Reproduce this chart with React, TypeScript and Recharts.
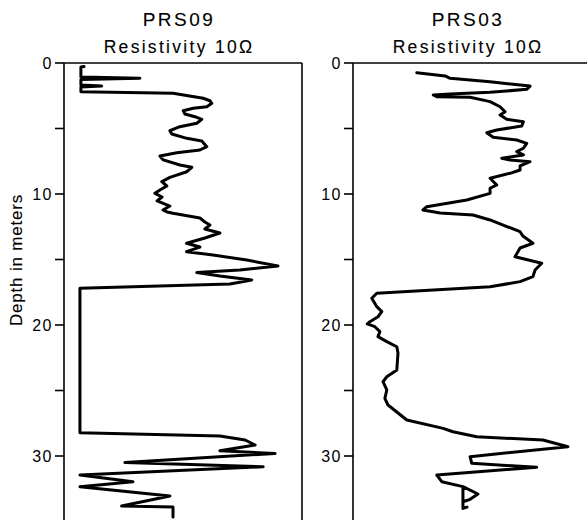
import React from "react";
import { LineChart, Line, XAxis, YAxis, ReferenceLine } from "recharts";

// PRS09 log (depth in m, resistivity in relative units 0-100)
const prs09Depth = [
  0.27, 0.3, 1.07, 1.17, 1.26, 1.68, 1.76, 1.83, 2.2, 2.31, 2.69, 2.88, 3.08, 3.34, 3.46, 3.64,
  3.89, 4.1, 4.3, 4.6, 4.86, 5.17, 5.42, 5.75, 5.95, 6.39, 6.64, 6.85, 7.1, 7.4, 7.79, 7.96,
  8.3, 8.73, 9.06, 9.39, 9.69, 9.95, 10.23, 10.53, 10.92, 11.22, 11.37, 11.47, 11.83, 12.14,
  12.37, 12.67, 12.98, 13.36, 13.76, 14.05, 14.4, 14.66, 15.04, 15.5, 15.8, 16.0, 16.26, 16.56,
  16.87, 17.2, 28.22, 28.47, 28.78, 29.16, 29.6, 29.8, 30.5, 30.82, 31.45, 31.96, 32.34, 33.05,
  33.82, 33.89, 34.66,
];
const prs09Res = [
  8.4, 7.1, 7.1, 31.9, 7.1, 7.1, 15.8, 7.1, 7.1, 45.8, 58.5, 61.3, 62.1, 60.0, 54.3, 50.1,
  50.8, 55.0, 57.9, 55.8, 48.7, 44.5, 45.3, 51.6, 57.9, 60.0, 57.1, 47.4, 40.3, 41.7, 48.7, 53.7,
  51.6, 44.5, 41.1, 43.2, 40.3, 38.2, 41.2, 39.1, 44.5, 41.6, 43.3, 45.8, 57.1, 59.2,
  61.3, 59.2, 65.5, 59.2, 51.5, 57.1, 51.5, 62.6, 76.8, 89.9, 73.9, 55.8, 65.5, 78.9,
  69.7, 6.7, 6.7, 65.5, 76.1, 80.3, 65.5, 88.7, 25.6, 83.7, 6.7, 29.0, 6.7, 44.5,
  24.2, 45.8, 45.8,
];

// PRS03 log
const prs03Depth = [
  0.74, 0.99, 1.17, 1.43, 1.76, 2.01, 2.24, 2.37, 2.44, 2.57, 2.62, 2.95, 3.34, 3.72, 3.97,
  4.3, 4.48, 4.81, 5.11, 5.32, 5.67, 5.88, 6.13, 6.51, 6.77, 7.02, 7.27, 7.4, 7.53, 7.86, 8.17,
  8.42, 8.8, 9.31, 9.56, 9.95, 10.46, 10.97, 11.22, 11.45, 11.6, 11.98, 12.88, 13.21, 13.76,
  14.12, 14.79, 15.29, 15.8, 16.31, 16.69, 17.08, 17.58, 17.96, 18.6, 18.98, 19.37, 19.75,
  19.92, 20.13, 20.51, 20.89, 21.27, 21.66, 22.14, 23.44, 23.95, 24.33, 24.96, 25.6, 26.11,
  27.25, 27.89, 28.15, 28.53, 28.78, 29.29, 30.05, 30.56, 30.86, 31.45, 31.96, 32.34, 32.9,
  33.31, 33.49, 32.34, 34.0, 33.9,
];
const prs03Res = [
  26.8, 38.7, 40.8, 57.6, 74.4, 73.0, 57.6, 40.8, 33.7, 35.2, 49.2, 57.6, 61.8, 63.9, 61.8,
  64.6, 71.6, 70.9, 60.4, 56.2, 58.9, 68.8, 73.0, 71.6, 68.8, 71.6, 62.5, 66.0, 74.4, 70.2, 70.2,
  66.0, 57.6, 60.4, 57.6, 57.6, 47.8, 31.0, 29.4, 36.6, 50.4, 57.6, 70.2, 71.4, 75.6,
  70.2, 68.1, 79.3, 76.5, 75.6, 70.2, 57.6, 10.0, 7.9, 10.0, 12.1, 10.5, 7.1,
  6.0, 9.2, 11.3, 10.5, 14.2, 18.4, 18.9, 18.4, 14.2, 12.6, 14.2, 13.4, 14.7,
  22.6, 37.9, 42.0, 52.0, 79.8, 90.3, 49.2, 49.9, 77.2, 35.2, 37.3, 46.2, 52.5,
  49.2, 46.2, 46.2, 46.2, 47.9,
];

const depthTicks = [0, 5, 10, 15, 20, 25, 30, 35];

const font = "'Liberation Sans', Arial, sans-serif";

const toRows = (depth: number[], res: number[]) =>
  depth.map((d, i) => ({ depth: d, res: res[i] }));

interface LogProps {
  depth: number[];
  res: number[];
  width: number;
  right: number;
}

const LogPanel = ({ depth, res, width, right }: LogProps) => (
  <LineChart
    layout="vertical"
    width={width}
    height={540}
    data={toRows(depth, res)}
    margin={{ top: 63, right, bottom: 18.5, left: 0 }}
  >
    <XAxis type="number" dataKey="res" domain={[0, 100]} hide />
    <YAxis
      type="number"
      dataKey="depth"
      domain={[0, 35]}
      ticks={depthTicks}
      width={64}
      tickSize={9}
      tickMargin={2}
      tickFormatter={(v) => (v % 10 === 0 ? String(v) : "")}
      tick={{ fontSize: 16, fill: "#000", fontFamily: font, letterSpacing: 1.5 }}
      axisLine={{ stroke: "#000", strokeWidth: 1.6 }}
      tickLine={{ stroke: "#000", strokeWidth: 1.6 }}
    />
    <ReferenceLine y={0} stroke="#000" strokeWidth={1.6} />
    <ReferenceLine x={100} stroke="#000" strokeWidth={1.6} />
    <Line
      dataKey="res"
      type="linear"
      stroke="#000"
      strokeWidth={3}
      strokeLinejoin="round"
      strokeLinecap="round"
      dot={false}
      isAnimationActive={false}
    />
  </LineChart>
);

export default function App() {
  return (
    <div
      style={{
        position: "absolute",
        left: 0,
        top: 0,
        width: 587,
        height: 520,
        overflow: "hidden",
        background: "#fff",
      }}
    >
      <div style={{ position: "absolute", left: 0, top: 0 }}>
        <LogPanel depth={prs09Depth} res={prs09Res} width={312} right={10} />
      </div>
      <div style={{ position: "absolute", left: 289, top: 0 }}>
        <LogPanel depth={prs03Depth} res={prs03Res} width={302} right={0} />
      </div>
      <svg
        width={587}
        height={520}
        style={{ position: "absolute", left: 0, top: 0, pointerEvents: "none" }}
        fontFamily={font}
        stroke="#000"
        strokeWidth={0.12}
      >
        <text x={179} y={26} textAnchor="middle" fontSize={19} letterSpacing={2.5}>
          PRS09
        </text>
        <text x={179} y={53} textAnchor="middle" fontSize={17.5} letterSpacing={2.3}>
          Resistivity 10Ω
        </text>
        <text x={468} y={26} textAnchor="middle" fontSize={19} letterSpacing={2.5}>
          PRS03
        </text>
        <text x={468} y={53} textAnchor="middle" fontSize={17.5} letterSpacing={2.3}>
          Resistivity 10Ω
        </text>
        <text
          x={22}
          y={260}
          textAnchor="middle"
          fontSize={17}
          letterSpacing={0.8}
          transform="rotate(-90, 22, 260)"
        >
          Depth in meters
        </text>
      </svg>
    </div>
  );
}
